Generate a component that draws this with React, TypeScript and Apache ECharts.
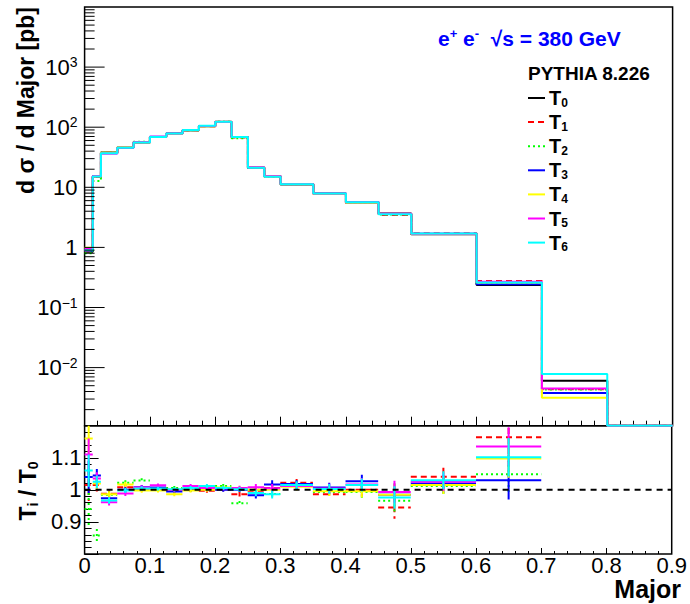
import React, { useEffect, useRef } from 'react';
import * as echarts from 'echarts';

// Bin edges of the "Major" distribution (last bin is empty)
const binEdges = [0, 0.0125, 0.025, 0.05, 0.075, 0.1, 0.125, 0.15, 0.175, 0.2, 0.225, 0.25, 0.275, 0.3, 0.35, 0.4, 0.45, 0.5, 0.6, 0.7, 0.8, 0.9];

// Reference tune T0: d sigma / d Major [pb] per bin
const t0Values = [0.85, 14.8, 38, 45.8, 55.6, 68.6, 78.6, 89, 104, 122.6, 68.6, 21.3, 15.2, 11.1, 7.85, 5.56, 3.65, 1.65, 0.237, 0.00607, 0];

// Ratios Ti / T0 per bin (bins 0..19)
const ratioT1 = [1.015, 1.015, 0.988, 1.008, 1.002, 1.0, 0.998, 1.0, 0.997, 1.002, 0.986, 0.997, 1.006, 1.022, 0.986, 1.0, 0.945, 1.041, 1.164, 0.72];
const ratioT2 = [0.94, 0.858, 0.985, 1.022, 1.029, 1.005, 1.006, 1.003, 1.005, 1.012, 0.958, 1.0, 0.987, 1.012, 0.993, 0.993, 0.966, 1.012, 1.049, 0.71];
const ratioT3 = [1.04, 1.045, 0.974, 1.0, 1.008, 1.007, 0.995, 1.0, 1.003, 1.0, 1.0, 0.983, 1.017, 1.018, 1.007, 1.027, 0.985, 1.02, 1.03, 0.62];
const ratioT4 = [1.16, 1.02, 0.986, 1.017, 0.998, 0.998, 0.986, 0.998, 1.0, 1.007, 1.004, 1.0, 1.0, 1.01, 0.996, 0.996, 0.985, 1.015, 1.098, 0.52];
const ratioT5 = [1.11, 1.035, 0.961, 0.989, 1.007, 1.014, 1.0, 1.012, 1.006, 1.005, 1.006, 1.008, 1.005, 1.012, 1.004, 1.017, 0.993, 1.025, 1.135, 0.74];
const ratioT6 = [1.06, 1.025, 0.967, 0.998, 1.004, 1.004, 1.002, 1.006, 1.012, 1.006, 1.002, 0.99, 0.986, 1.015, 1.003, 1.015, 0.976, 1.03, 1.102, 1.29];
const ratioErr = [0.05, 0.02, 0.01, 0.008, 0.007, 0.006, 0.006, 0.006, 0.006, 0.006, 0.007, 0.01, 0.013, 0.012, 0.015, 0.02, 0.035, 0.028, 0.06, 0.05];

// Log-axis tick marks
const logDecades = [-3, -2, -1, 0, 1, 2, 3];
const logMantissas = [1, 2, 3, 4, 5, 6, 7, 8, 9];

const Y_MIN = 0.00108;
const Y_MAX = 10000;

const FONT = '"Liberation Sans", Arial, Helvetica, sans-serif';

const tunes = [
  { name: '0', color: '#000000', dash: 'solid' as any, ratio: null as number[] | null },
  { name: '1', color: '#ff0000', dash: [6, 4], ratio: ratioT1 },
  { name: '2', color: '#00ff00', dash: [2, 3], ratio: ratioT2 },
  { name: '3', color: '#0000ff', dash: 'solid', ratio: ratioT3 },
  { name: '4', color: '#ffff00', dash: 'solid', ratio: ratioT4 },
  { name: '5', color: '#ff00ff', dash: 'solid', ratio: ratioT5 },
  { name: '6', color: '#00ffff', dash: 'solid', ratio: ratioT6 },
];

function tuneValues(ratio: number[] | null): number[] {
  return t0Values.map((v, i) => (ratio && i < ratio.length ? v * ratio[i] : v));
}

// Step outline of a histogram, empty bins sit on the axis floor
function stepPath(values: number[]): number[][] {
  const pts: number[][] = [];
  values.forEach((v, i) => {
    const y = v > 0 ? v : Y_MIN;
    pts.push([binEdges[i], y]);
    pts.push([binEdges[i + 1], y]);
  });
  return pts;
}

export default function App() {
  const ref = useRef<HTMLDivElement>(null);

  useEffect(() => {
    if (!ref.current) return;
    const chart = echarts.init(ref.current, undefined, { renderer: 'svg' });

    const histSeries = tunes.map((t, k) => ({
      type: 'line',
      name: 'T' + t.name,
      xAxisIndex: 0,
      yAxisIndex: 0,
      data: stepPath(tuneValues(t.ratio)),
      showSymbol: false,
      symbol: 'none',
      silent: true,
      clip: true,
      z: 2 + k,
      lineStyle: { color: t.color, width: 2, type: t.dash },
    }));

    const ratioSeries = tunes
      .filter((t) => t.ratio)
      .map((t, k) => ({
        type: 'custom',
        name: 'R' + t.name,
        xAxisIndex: 1,
        yAxisIndex: 1,
        clip: true,
        silent: true,
        z: 2 + k,
        encode: { x: [0, 1], y: [2] },
        data: (t.ratio as number[]).map((r, i) => [binEdges[i], binEdges[i + 1], r, ratioErr[i]]),
        renderItem: (params: any, api: any) => {
          const lo = api.value(0);
          const hi = api.value(1);
          const r = api.value(2);
          const e = api.value(3);
          const a = api.coord([lo, r]);
          const b = api.coord([hi, r]);
          const mid = (lo + hi) / 2;
          const top = api.coord([mid, r + e]);
          const bot = api.coord([mid, r - e]);
          const style = { stroke: t.color, lineWidth: 2, lineDash: Array.isArray(t.dash) ? t.dash : null };
          return {
            type: 'group',
            children: [
              { type: 'line', shape: { x1: a[0], y1: a[1], x2: b[0], y2: b[1] }, style },
              { type: 'line', shape: { x1: top[0], y1: top[1], x2: bot[0], y2: bot[1] }, style },
            ],
          };
        },
      }));

    const logTicks: number[][] = [];
    logDecades.forEach((d) =>
      logMantissas.forEach((m) => {
        const v = m * Math.pow(10, d);
        if (v >= Y_MIN && v <= Y_MAX) logTicks.push([0, v, m === 1 ? 20 : 10]);
      })
    );

    const logTickSeries = {
      type: 'custom',
      xAxisIndex: 0,
      yAxisIndex: 0,
      silent: true,
      encode: { x: [0], y: [1] },
      data: logTicks,
      z: 20,
      renderItem: (params: any, api: any) => {
        const p = api.coord([0, api.value(1)]);
        const len = api.value(2);
        return {
          type: 'line',
          shape: { x1: p[0], y1: p[1], x2: p[0] + len, y2: p[1] },
          style: { stroke: '#000', lineWidth: 1 },
        };
      },
    };

    const unitLine = {
      type: 'line',
      xAxisIndex: 1,
      yAxisIndex: 1,
      data: [
        [0, 1],
        [0.9, 1],
      ],
      showSymbol: false,
      symbol: 'none',
      silent: true,
      z: 30,
      lineStyle: { color: '#000', width: 2, type: [6, 5] },
    };

    const supRich = {
      b: { fontFamily: FONT, fontSize: 22, color: '#000', lineHeight: 24 },
      s: { fontFamily: FONT, fontSize: 14, color: '#000', lineHeight: 15, verticalAlign: 'top' },
    };

    const legendChildren: any[] = [];
    tunes.forEach((t, k) => {
      const y = 98 + k * 24.1;
      legendChildren.push({
        type: 'line',
        shape: { x1: 528, y1: y, x2: 545, y2: y },
        style: { stroke: t.color, lineWidth: 2, lineDash: Array.isArray(t.dash) ? t.dash : null },
      });
      legendChildren.push({
        type: 'text',
        x: 549,
        y: y,
        style: {
          text: '{b|T}{s|' + t.name + '}',
          verticalAlign: 'middle',
          align: 'left',
          rich: {
            b: { fontFamily: FONT, fontSize: 20, fontWeight: 'bold', fill: '#000', lineHeight: 21 },
            s: { fontFamily: FONT, fontSize: 12, fontWeight: 'bold', fill: '#000', lineHeight: 12, verticalAlign: 'bottom' },
          },
        },
      });
    });

    const option: any = {
      animation: false,
      grid: [
        { left: 84.6, top: 7, width: 588, height: 418.7, show: true, borderColor: '#000', borderWidth: 1.5, backgroundColor: 'transparent' },
        { left: 84.6, top: 425.7, width: 588, height: 128.3, show: true, borderColor: '#000', borderWidth: 1.5, backgroundColor: 'transparent' },
      ],
      xAxis: [
        {
          type: 'value', gridIndex: 0, min: 0, max: 0.9, interval: 0.1,
          axisLine: { show: false },
          axisLabel: { show: false },
          splitLine: { show: false },
          axisTick: { show: true, inside: true, length: 9, lineStyle: { color: '#000', width: 1 } },
          minorTick: { show: true, splitNumber: 5, length: 5, lineStyle: { color: '#000', width: 1 } },
        },
        {
          type: 'value', gridIndex: 1, min: 0, max: 0.9, interval: 0.1,
          axisLine: { show: false },
          splitLine: { show: false },
          axisLabel: { show: true, fontFamily: FONT, fontSize: 22, color: '#000', margin: 0, lineHeight: 22 },
          axisTick: { show: true, inside: true, length: 6, lineStyle: { color: '#000', width: 1 } },
          minorTick: { show: true, splitNumber: 5, length: 3, lineStyle: { color: '#000', width: 1 } },
        },
      ],
      yAxis: [
        {
          type: 'log', gridIndex: 0, min: Y_MIN, max: Y_MAX, logBase: 10,
          axisLine: { show: false },
          splitLine: { show: false },
          axisTick: { show: false },
          axisLabel: {
            show: true, margin: 7, showMinLabel: false, showMaxLabel: false,
            formatter: (v: number) => {
              const l = Math.log10(v);
              const e = Math.round(l);
              if (Math.abs(l - e) > 1e-6 || e > 3) return '';
              if (e === 0) return '{b|1}';
              if (e === 1) return '{b|10}';
              return '{b|10}{s|' + (e < 0 ? '\u2212' + -e : String(e)) + '}';
            },
            rich: supRich,
          },
        },
        {
          type: 'value', gridIndex: 1, min: 0.8, max: 1.2, interval: 0.1,
          axisLine: { show: false },
          splitLine: { show: false },
          axisLabel: { show: true, fontFamily: FONT, fontSize: 22, color: '#000', margin: 3, showMinLabel: false, showMaxLabel: false },
          axisTick: { show: true, inside: true, length: 14, lineStyle: { color: '#000', width: 1 } },
          minorTick: { show: true, splitNumber: 5, length: 7, lineStyle: { color: '#000', width: 1 } },
        },
      ],
      series: [...histSeries, logTickSeries, ...ratioSeries, unitLine],
      graphic: [
        {
          type: 'text', x: 26, y: 7, rotation: Math.PI / 2,
          style: {
            text: 'd \u03c3 / d Major [pb]', align: 'right', verticalAlign: 'middle',
            font: 'bold 23px ' + FONT, fill: '#000',
          },
        },
        {
          type: 'text', x: 28, y: 491, rotation: Math.PI / 2,
          style: {
            text: '{b|T}{s|i}{b| / T}{s|0}', align: 'center', verticalAlign: 'middle',
            rich: {
              b: { fontFamily: FONT, fontSize: 23, fontWeight: 'bold', fill: '#000', lineHeight: 24 },
              s: { fontFamily: FONT, fontSize: 14, fontWeight: 'bold', fill: '#000', lineHeight: 14, verticalAlign: 'bottom' },
            },
          },
        },
        {
          type: 'text', x: 681, y: 589,
          style: { text: 'Major', align: 'right', verticalAlign: 'middle', font: 'bold 25px ' + FONT, lineHeight: 24, fill: '#000' },
        },
        {
          type: 'text', x: 438, y: 38,
          style: {
            text: '{b|e}{s|+}{b| e}{s|-}{b|  \u221as = 380 GeV}', align: 'left', verticalAlign: 'middle',
            rich: {
              b: { fontFamily: FONT, fontSize: 21, fontWeight: 'bold', fill: '#0000ff', lineHeight: 22 },
              s: { fontFamily: FONT, fontSize: 13, fontWeight: 'bold', fill: '#0000ff', lineHeight: 14, verticalAlign: 'top' },
            },
          },
        },
        {
          type: 'text', x: 528, y: 73,
          style: { text: 'PYTHIA 8.226', align: 'left', verticalAlign: 'middle', font: 'bold 19px ' + FONT, fill: '#000' },
        },
        { type: 'group', children: legendChildren },
      ],
    };

    chart.setOption(option);
    return () => chart.dispose();
  }, []);

  return (
    <div
      ref={ref}
      style={{ position: 'absolute', left: 0, top: 0, width: 690, height: 604, background: '#fff' }}
    />
  );
}
